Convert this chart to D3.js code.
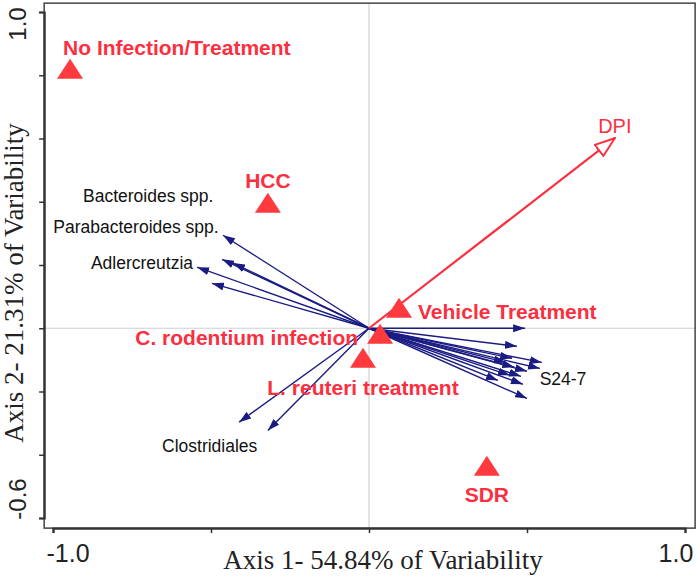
<!DOCTYPE html>
<html>
<head>
<meta charset="utf-8">
<script src="https://cdn.jsdelivr.net/npm/d3@7"></script>
<style>
  html, body { margin: 0; padding: 0; background: #fff; }
  svg { display: block; }
</style>
</head>
<body>
<svg id="chart" width="700" height="579"></svg>
<script>
// ---- data ----
const groups = ["No Infection/Treatment", "HCC", "Vehicle Treatment", "C. rodentium infection", "L. reuteri treatment", "SDR"];
const groupX = [-0.946, -0.320, 0.095, 0.035, -0.019, 0.373];
const groupY = [0.819, 0.395, 0.063, -0.019, -0.095, -0.436];

const envVar = ["DPI"];
const envX = [0.778];
const envY = [0.601];

// taxa vectors (arrow tips)
const taxaX = [-0.462, -0.465, -0.430, -0.544, -0.497, -0.411, -0.320,
               0.494, 0.468, 0.547, 0.541, 0.453, 0.433, 0.500, 0.481, 0.408, 0.487, 0.500, 0.460, 0.446];
const taxaY = [0.294, 0.218, 0.206, 0.193, 0.142, -0.297, -0.323,
               0.000, -0.057, -0.108, -0.127, -0.095, -0.108, -0.136, -0.152, -0.165, -0.177, -0.222, -0.123, -0.149];

// taxa labels and their anchor points (data units)
const taxaLabels = ["Bacteroides spp.", "Parabacteroides spp.", "Adlercreutzia", "Clostridiales", "S24-7"];
const taxaLabelX = [-0.905, -0.999, -0.880, -0.655, 0.540];
const taxaLabelY = [0.398, 0.300, 0.187, -0.392, -0.180];

const xTicks = [-1.0, -0.5, 0, 0.5, 1.0];
const yTicks = [-0.6, -0.4, -0.2, 0, 0.2, 0.4, 0.6, 0.8, 1.0];
const xTickLabels = ["-1.0", "1.0"];
const yTickLabels = ["-0.6", "1.0"];
const xTitle = "Axis 1- 54.84% of Variability";
const yTitle = "Axis 2- 21.31% of Variability";

// ---- layout ----
const RED = "#fb2f40";
const TRI = "#ff3a3f";
const BLUE = "#1b1b84";
const svg = d3.select("#chart");

const x = d3.scaleLinear().domain([-1, 1]).range([53, 685]);
const y = d3.scaleLinear().domain([-0.6, 1]).range([518, 12]);
const xL = x(-1.028), xR = x(1.032), yT = y(1.028), yB = y(-0.632);

// zero lines
svg.append("line").attr("x1", x(0)).attr("x2", x(0)).attr("y1", yT).attr("y2", yB)
  .attr("stroke", "#d0d0d0").attr("stroke-width", 1.2);
svg.append("line").attr("x1", xL).attr("x2", xR).attr("y1", y(0)).attr("y2", y(0))
  .attr("stroke", "#d0d0d0").attr("stroke-width", 1.2);

// frame
svg.append("rect").attr("x", xL).attr("y", yT).attr("width", xR - xL).attr("height", yB - yT)
  .attr("fill", "none").attr("stroke", "#444").attr("stroke-width", 1.5);

// axes ticks
const gL = svg.append("g").attr("transform", `translate(${xL},0)`)
  .call(d3.axisLeft(y).tickValues(yTicks).tickSize(5).tickFormat(""));
const gB = svg.append("g").attr("transform", `translate(0,${yB})`)
  .call(d3.axisBottom(x).tickValues(xTicks).tickSize(5).tickFormat(""));
[gL, gB].forEach(g => {
  g.select(".domain").attr("stroke", "#333").attr("stroke-width", 2.2);
  g.selectAll(".tick line").attr("stroke", "#333").attr("stroke-width", 1.5);
});

// tick labels
svg.append("text").attr("x", x(-1) + 15).attr("y", yB + 34).attr("text-anchor", "middle")
  .attr("font-family", "Liberation Sans, Arial, sans-serif").attr("font-size", 25).attr("fill", "#222")
  .text(xTickLabels[0]);
svg.append("text").attr("x", x(1) - 9).attr("y", yB + 34).attr("text-anchor", "middle")
  .attr("font-family", "Liberation Sans, Arial, sans-serif").attr("font-size", 25).attr("fill", "#222")
  .text(xTickLabels[1]);
svg.append("text").attr("transform", `translate(26,${y(-0.6) - 19}) rotate(-90)`).attr("text-anchor", "middle")
  .attr("font-family", "Liberation Sans, Arial, sans-serif").attr("font-size", 24).attr("fill", "#222")
  .text(yTickLabels[0]);
svg.append("text").attr("transform", `translate(26,${y(1) + 12}) rotate(-90)`).attr("text-anchor", "middle")
  .attr("font-family", "Liberation Sans, Arial, sans-serif").attr("font-size", 24).attr("fill", "#222")
  .text(yTickLabels[1]);

// axis titles
svg.append("text").attr("x", 383).attr("y", 569).attr("text-anchor", "middle")
  .attr("font-family", "Liberation Serif, Times New Roman, serif").attr("font-size", 27).attr("fill", "#222")
  .text(xTitle);
svg.append("text").attr("transform", `translate(23,283) rotate(-90)`).attr("text-anchor", "middle")
  .attr("font-family", "Liberation Serif, Times New Roman, serif").attr("font-size", 27).attr("fill", "#222")
  .text(yTitle);

// markers
const defs = svg.append("defs");
defs.append("marker").attr("id", "bhead").attr("viewBox", "0 0 12 8")
  .attr("refX", 12).attr("refY", 4).attr("markerUnits", "userSpaceOnUse")
  .attr("markerWidth", 12).attr("markerHeight", 8).attr("orient", "auto")
  .append("path").attr("d", "M0,0 L12,4 L0,8 Z").attr("fill", BLUE);
defs.append("marker").attr("id", "rhead").attr("viewBox", "-1 -1 22 16")
  .attr("refX", 20).attr("refY", 7).attr("markerUnits", "userSpaceOnUse")
  .attr("markerWidth", 22).attr("markerHeight", 16).attr("orient", "auto")
  .append("path").attr("d", "M0,0 L20,7 L0,14 Z").attr("fill", "#fff")
  .attr("stroke", RED).attr("stroke-width", 2).attr("stroke-linejoin", "miter");

// taxa arrows
const taxa = taxaX.map((v, i) => ({ x: v, y: taxaY[i] }));
svg.append("g").selectAll("line").data(taxa).join("line")
  .attr("x1", x(0)).attr("y1", y(0))
  .attr("x2", d => x(d.x)).attr("y2", d => y(d.y))
  .attr("stroke", BLUE).attr("stroke-width", 1.4)
  .attr("marker-end", "url(#bhead)");

// DPI arrow
const env = envX.map((v, i) => ({ name: envVar[i], x: v, y: envY[i] }));
svg.append("g").selectAll("line").data(env).join("line")
  .attr("x1", x(0)).attr("y1", y(0))
  .attr("x2", d => x(d.x)).attr("y2", d => y(d.y))
  .attr("stroke", RED).attr("stroke-width", 2.2)
  .attr("marker-end", "url(#rhead)");
svg.append("g").selectAll("text").data(env).join("text")
  .attr("x", d => x(d.x)).attr("y", d => y(d.y) - 5).attr("text-anchor", "middle")
  .attr("font-family", "Liberation Sans, Arial, sans-serif").attr("font-size", 20)
  .attr("fill", RED).text(d => d.name);

// group triangles
const pts = groups.map((g, i) => ({ name: g, x: groupX[i], y: groupY[i] }));
const tri = "M0,-10.5 L13,9.5 L-13,9.5 Z";
svg.append("g").selectAll("path").data(pts).join("path")
  .attr("transform", d => `translate(${x(d.x)},${y(d.y)})`)
  .attr("d", tri).attr("fill", TRI);

// group labels (pixel offsets from marker)
const labelPlace = [
  { dx: -7, dy: -14, anchor: "start" },
  { dx: 0, dy: -15, anchor: "middle" },
  { dx: 19, dy: 11, anchor: "start" },
  { dx: -22, dy: 11, anchor: "end" },
  { dx: 0, dy: 37, anchor: "middle" },
  { dx: 0, dy: 36, anchor: "middle" }
];
svg.append("g").selectAll("text").data(pts).join("text")
  .attr("x", (d, i) => x(d.x) + labelPlace[i].dx)
  .attr("y", (d, i) => y(d.y) + labelPlace[i].dy)
  .attr("text-anchor", (d, i) => labelPlace[i].anchor)
  .attr("font-family", "Liberation Sans, Arial, sans-serif").attr("font-size", 21)
  .attr("font-weight", "bold").attr("fill", RED).text(d => d.name);

// taxa labels
const tl = taxaLabels.map((t, i) => ({ name: t, x: taxaLabelX[i], y: taxaLabelY[i] }));
svg.append("g").selectAll("text").data(tl).join("text")
  .attr("x", d => x(d.x)).attr("y", d => y(d.y))
  .attr("font-family", "Liberation Sans, Arial, sans-serif").attr("font-size", 17.5)
  .attr("fill", "#111").text(d => d.name);
</script>
</body>
</html>
